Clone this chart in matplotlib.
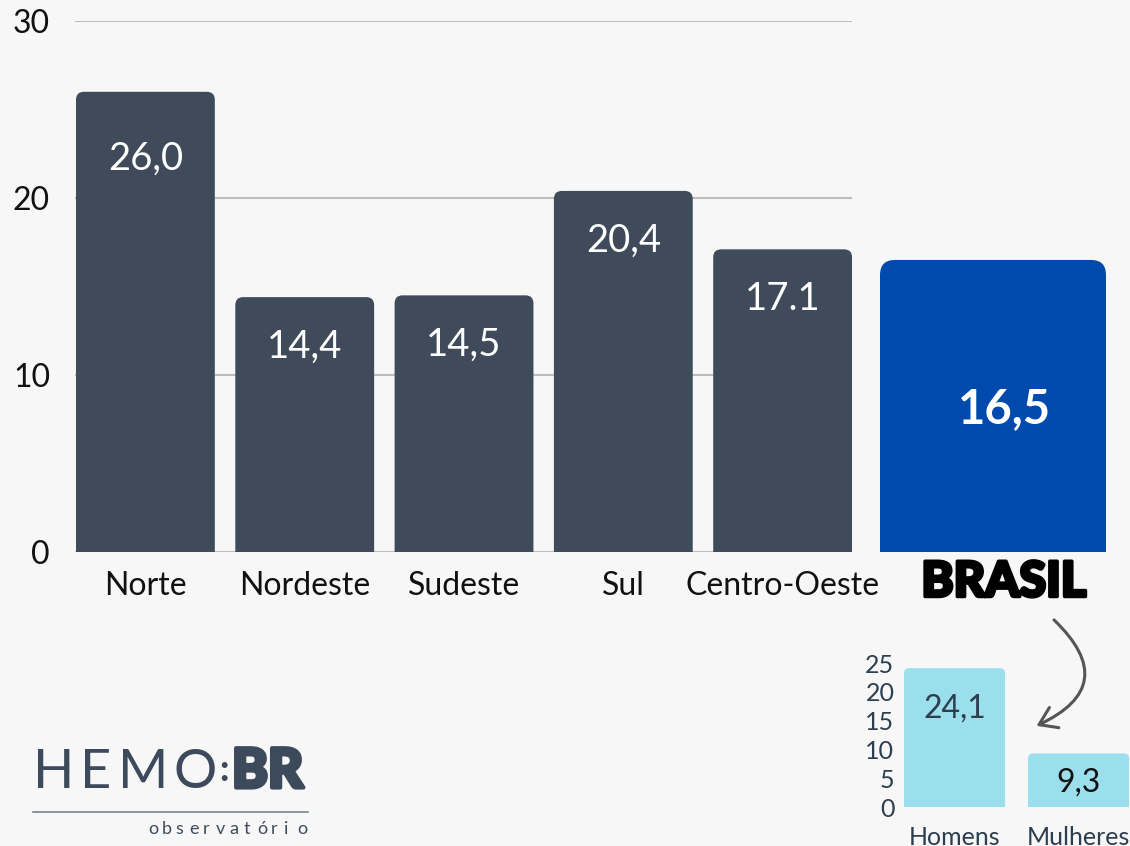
"""
Bar chart by region with Brasil total and a small sex breakdown
"""
import matplotlib
matplotlib.use("Agg")
import matplotlib.pyplot as plt
from matplotlib.patches import PathPatch, FancyArrowPatch
from matplotlib.path import Path
import matplotlib.patheffects as pe

# data
regions = ["Norte", "Nordeste", "Sudeste", "Sul", "Centro-Oeste"]
region_values = [26.0, 14.4, 14.5, 20.4, 17.1]
region_labels = ["26,0", "14,4", "14,5", "20,4", "17.1"]
brasil_value = 16.5
brasil_label = "16,5"
sexes = ["Homens", "Mulheres"]
sex_values = [24.1, 9.3]
sex_labels = ["24,1", "9,3"]

BG = "#f7f7f7"
DARK = "#3f4b5b"
BLUE = "#004aad"
LIGHT = "#9adfeb"
NAVY = "#2d3e50"

plt.rcParams["font.family"] = ["Lato", "DejaVu Sans"]

W, H = 1130, 846
fig = plt.figure(figsize=(W / 100, H / 100), dpi=100, facecolor=BG)


def px_axes(x0, y0, x1, y1):
    # pixel box (top-left origin) -> axes
    return fig.add_axes([x0 / W, 1 - y1 / H, (x1 - x0) / W, (y1 - y0) / H])


def rounded_bar(ax, x, h, w, r_px, color):
    # bar with rounded top corners only
    bbox = ax.get_position()
    xpp = (ax.get_xlim()[1] - ax.get_xlim()[0]) / (bbox.width * W)
    ypp = (ax.get_ylim()[1] - ax.get_ylim()[0]) / (bbox.height * H)
    rx, ry = r_px * xpp, r_px * ypp
    x0, x1 = x - w / 2, x + w / 2
    verts = [(x0, 0), (x0, h - ry), (x0, h), (x0 + rx, h), (x1 - rx, h),
             (x1, h), (x1, h - ry), (x1, 0), (x0, 0)]
    codes = [Path.MOVETO, Path.LINETO, Path.CURVE3, Path.CURVE3, Path.LINETO,
             Path.CURVE3, Path.CURVE3, Path.LINETO, Path.CLOSEPOLY]
    ax.add_patch(PathPatch(Path(verts, codes), fc=color, ec="none", zorder=2))


# main regional chart
ax = px_axes(75, 21, 852, 552)
ax.set_facecolor(BG)
ax.set_xlim(-0.442, 4.4355)
ax.set_ylim(0, 30)
ax.set_yticks([0, 10, 20, 30])
ax.yaxis.grid(True, color="#bdbdbd", lw=1.5, zorder=0)
ax.set_axisbelow(True)
for s in ax.spines.values():
    s.set_visible(False)
ax.tick_params(length=0, labelsize=23, colors="#111111")
ax.tick_params(axis="y", pad=18)
ax.tick_params(axis="x", pad=14)
ax.set_xticks(range(len(regions)))
ax.set_xticklabels(regions)

bar_w = 139 / 159.5
for i, (v, lab) in enumerate(zip(region_values, region_labels)):
    rounded_bar(ax, i, v, bar_w, 8, DARK)
    off = 3.8 if i == 0 else 2.8
    ax.text(i, v - off, lab, ha="center", va="center", color="white",
            fontsize=27.5, zorder=3)

# brasil bar
axb = px_axes(880, 21, 1106, 552)
axb.set_xlim(0, 1)
axb.set_ylim(0, 30)
axb.axis("off")
rounded_bar(axb, 0.5, brasil_value, 1.0, 15, BLUE)
axb.text(0.55, brasil_value - 8.4, brasil_label, ha="center", va="center",
         color="white", fontsize=34, fontweight="bold", zorder=3)
fig.text(1004 / W, 1 - 582 / H, "BRASIL", ha="center", va="center",
         fontsize=35, fontweight="black", color="black",
         path_effects=[pe.withStroke(linewidth=2.5, foreground="black")])

# small sex breakdown
axs = px_axes(900, 663, 1130, 807)
axs.set_facecolor("none")
axs.set_xlim(-0.44, 1.415)
axs.set_ylim(0, 25)
axs.set_yticks([0, 5, 10, 15, 20, 25])
axs.set_xticks(range(len(sexes)))
axs.set_xticklabels(sexes)
for s in axs.spines.values():
    s.set_visible(False)
axs.tick_params(length=0, labelsize=18, colors=NAVY, pad=4)
axs.tick_params(axis="x", pad=14)
sw = 101 / 124
for i, (v, lab) in enumerate(zip(sex_values, sex_labels)):
    rounded_bar(axs, i, v, sw, 5, LIGHT)
axs.text(0, sex_values[0] - 7.0, sex_labels[0], ha="center", va="center",
         fontsize=23, color=NAVY, zorder=3)
axs.text(1, sex_values[1] - 5.0, sex_labels[1], ha="center", va="center",
         fontsize=23, color="#111111", zorder=3)

# curved arrow
arrow = FancyArrowPatch((1052 / W, 1 - 618 / H), (1034 / W, 1 - 727 / H),
                        transform=fig.transFigure, connectionstyle="arc3,rad=-0.75",
                        arrowstyle="->,head_length=12,head_width=8",
                        color="#555555", lw=2.2, mutation_scale=1)
fig.patches.append(arrow)

# logo
logo_c = "#3d4a5c"
for ch, xs in zip("HEMO", [33, 80, 118, 173]):
    fig.text(xs / W, 1 - 772 / H, ch, ha="left", va="center",
             fontsize=39, color=logo_c)
fig.text(219 / W, 1 - 770 / H, ":", ha="left", va="center", fontsize=26,
         color=logo_c, fontweight="black")
fig.text(232 / W, 1 - 772 / H, "BR", ha="left", va="center", fontsize=39,
         color=logo_c, fontweight="black",
         path_effects=[pe.withStroke(linewidth=3, foreground=logo_c)])
fig.add_artist(plt.Line2D([33 / W, 308 / W], [1 - 812 / H, 1 - 812 / H],
                          color="#7a8591", lw=1.2))
for k, ch in enumerate("observatório"):
    fig.text((148 + k * 13.6) / W, 1 - 829 / H, ch, ha="left", va="center",
             fontsize=13, color=logo_c)

fig.savefig("out.png", dpi=100, facecolor=BG)
